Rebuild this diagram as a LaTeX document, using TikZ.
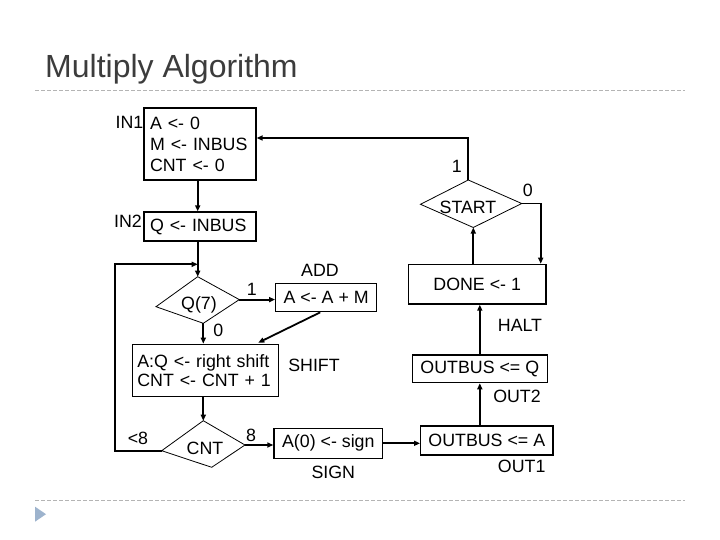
\documentclass[tikz,border=0pt]{standalone}
\usepackage{fontspec}
\setmainfont{Liberation Sans}
\usetikzlibrary{arrows.meta,calc}
\definecolor{titlegray}{HTML}{3C3C3C}
\definecolor{dashgray}{HTML}{B4B4B4}
\definecolor{bulletblue}{HTML}{9DB3CD}
\begin{document}
\begin{tikzpicture}[x=1pt,y=-1pt,
  every node/.style={font=\fontsize{17.8}{21}\selectfont},
  box/.style={draw,line width=1.3pt,inner sep=0pt},
  lbl/.style={inner sep=0pt},
  arr/.style={line width=1.8pt,-{Triangle[length=6pt,width=5pt]}},
  dia/.style={draw,line width=0.8pt},
  dashln/.style={dashgray,line width=1pt,dash pattern=on 4pt off 2pt}]
\useasboundingbox (0,0) rectangle (720,540);
\fill[white] (0,0) rectangle (720,540);

% title and rules
\node[anchor=base west,inner sep=0pt,font=\fontsize{32}{38}\selectfont,text=titlegray] (title) at (45,78) {Multiply Algorithm};
\draw[dashln] (35,91) -- (685,91);
\draw[dashln] (35,500) -- (685,500);
\fill[bulletblue] (35,506.7) -- (46,514.2) -- (35,521.7) -- cycle;

% boxes
\node[box,minimum width=112pt,minimum height=72pt,text width=100pt,align=left] (in1) at (200,144) {A <- 0\\M <- INBUS\\CNT <- 0};
\node[box,minimum width=112pt,minimum height=29pt,text width=100pt,align=left] (in2) at (200,226.5) {Q <- INBUS};
\node[box,minimum width=101pt,minimum height=28.4pt] (add) at (326.2,297.5) {A <- A + M};
\node[box,minimum width=146pt,minimum height=52.4pt,text width=136pt,align=left,font=\fontsize{17.8}{19.5}\selectfont] (shift) at (205.3,370.5) {A:Q <- right shift\\CNT <- CNT + 1};
\node[box,minimum width=108.7pt,minimum height=30pt] (sign) at (328.3,443.3) {A(0) <- sign};
\node[box,minimum width=137.7pt,minimum height=39.7pt] (done) at (477.2,284.2) {DONE <- 1};
\node[box,minimum width=135pt,minimum height=27.7pt] (outq) at (479.8,368.8) {OUTBUS <= Q};
\node[box,minimum width=132.3pt,minimum height=29pt] (outa) at (486.8,440.5) {OUTBUS <= A};

% diamonds
\coordinate (st) at (468.3,180);
\coordinate (sl) at (420.5,204.3);
\coordinate (sr) at (521.7,203.5);
\coordinate (sb) at (473.3,227.5);
\draw[dia] (st) -- (sr) -- (sb) -- (sl) -- cycle;
\node[lbl] (start) at (468,207) {START};

\coordinate (q7t) at (197.7,276.7);
\coordinate (q7l) at (156,306.7);
\coordinate (q7r) at (239.3,299.6);
\coordinate (q7b) at (203.3,323.3);
\draw[dia] (q7t) -- (q7r) -- (q7b) -- (q7l) -- cycle;
\node[lbl] (q7) at (199,305) {Q(7)};

\coordinate (cntt) at (203.3,420.7);
\coordinate (cntl) at (161.7,450.7);
\coordinate (cntr) at (245,445);
\coordinate (cntb) at (211.7,467.3);
\draw[dia] (cntt) -- (cntr) -- (cntb) -- (cntl) -- cycle;
\node[lbl] (cnt) at (205,448) {CNT};

% connectors
\draw[arr] (in1.south -| q7t) -- (in2.north -| q7t);
\draw[arr] (in2.south -| q7t) -- (q7t);
\draw[arr] (q7r) -- (q7r -| add.west);
\draw[arr] ($(add.south)+(-6,0)$) -- ($(shift.north)+(53,-1)$);
\draw[arr] (q7b) -- (q7b |- shift.north);
\draw[arr] (shift.south -| cntt) -- (cntt);
\draw[arr] (cntr) -- (cntr -| sign.west);
\draw[arr] (sign.east) -- (sign.east -| outa.west);
\draw[arr] (outa.north -| outq.north) -- (outq.south);
\draw[arr] (outq.north) -- (outq.north |- done.south);
\draw[arr] (done.north -| sb) -- (sb);
\coordinate (zc) at (540.7,203.5);
\draw[arr] (sr) -- (zc) -- (zc |- done.north);
\coordinate (onec) at (468.3,138);
\draw[arr] (st) -- (onec) -- (onec -| in1.east);
\coordinate (lp) at (115,264.3);
\draw[arr] (cntl) -- (cntl -| lp) -- (lp) -- (lp -| q7t);

% labels
\node[lbl] (in1l) at (129.5,122) {IN1};
\node[lbl] (in2l) at (128,221) {IN2};
\node[lbl] (one1) at (456.7,166.7) {1};
\node[lbl] (zero1) at (527.7,190) {0};
\node[lbl] (one2) at (251.7,289.3) {1};
\node[lbl] (addl) at (320,270.7) {ADD};
\node[lbl] (zero2) at (218.3,330) {0};
\node[lbl] (shiftl) at (314,365) {SHIFT};
\node[lbl] (lt8) at (138,438) {<8};
\node[lbl] (eight) at (251,435) {8};
\node[lbl] (signl) at (333.3,472.3) {SIGN};
\node[lbl] (haltl) at (520,325) {HALT};
\node[lbl] (out2l) at (517,396) {OUT2};
\node[lbl] (out1l) at (521.7,466.7) {OUT1};
\end{tikzpicture}
\end{document}
